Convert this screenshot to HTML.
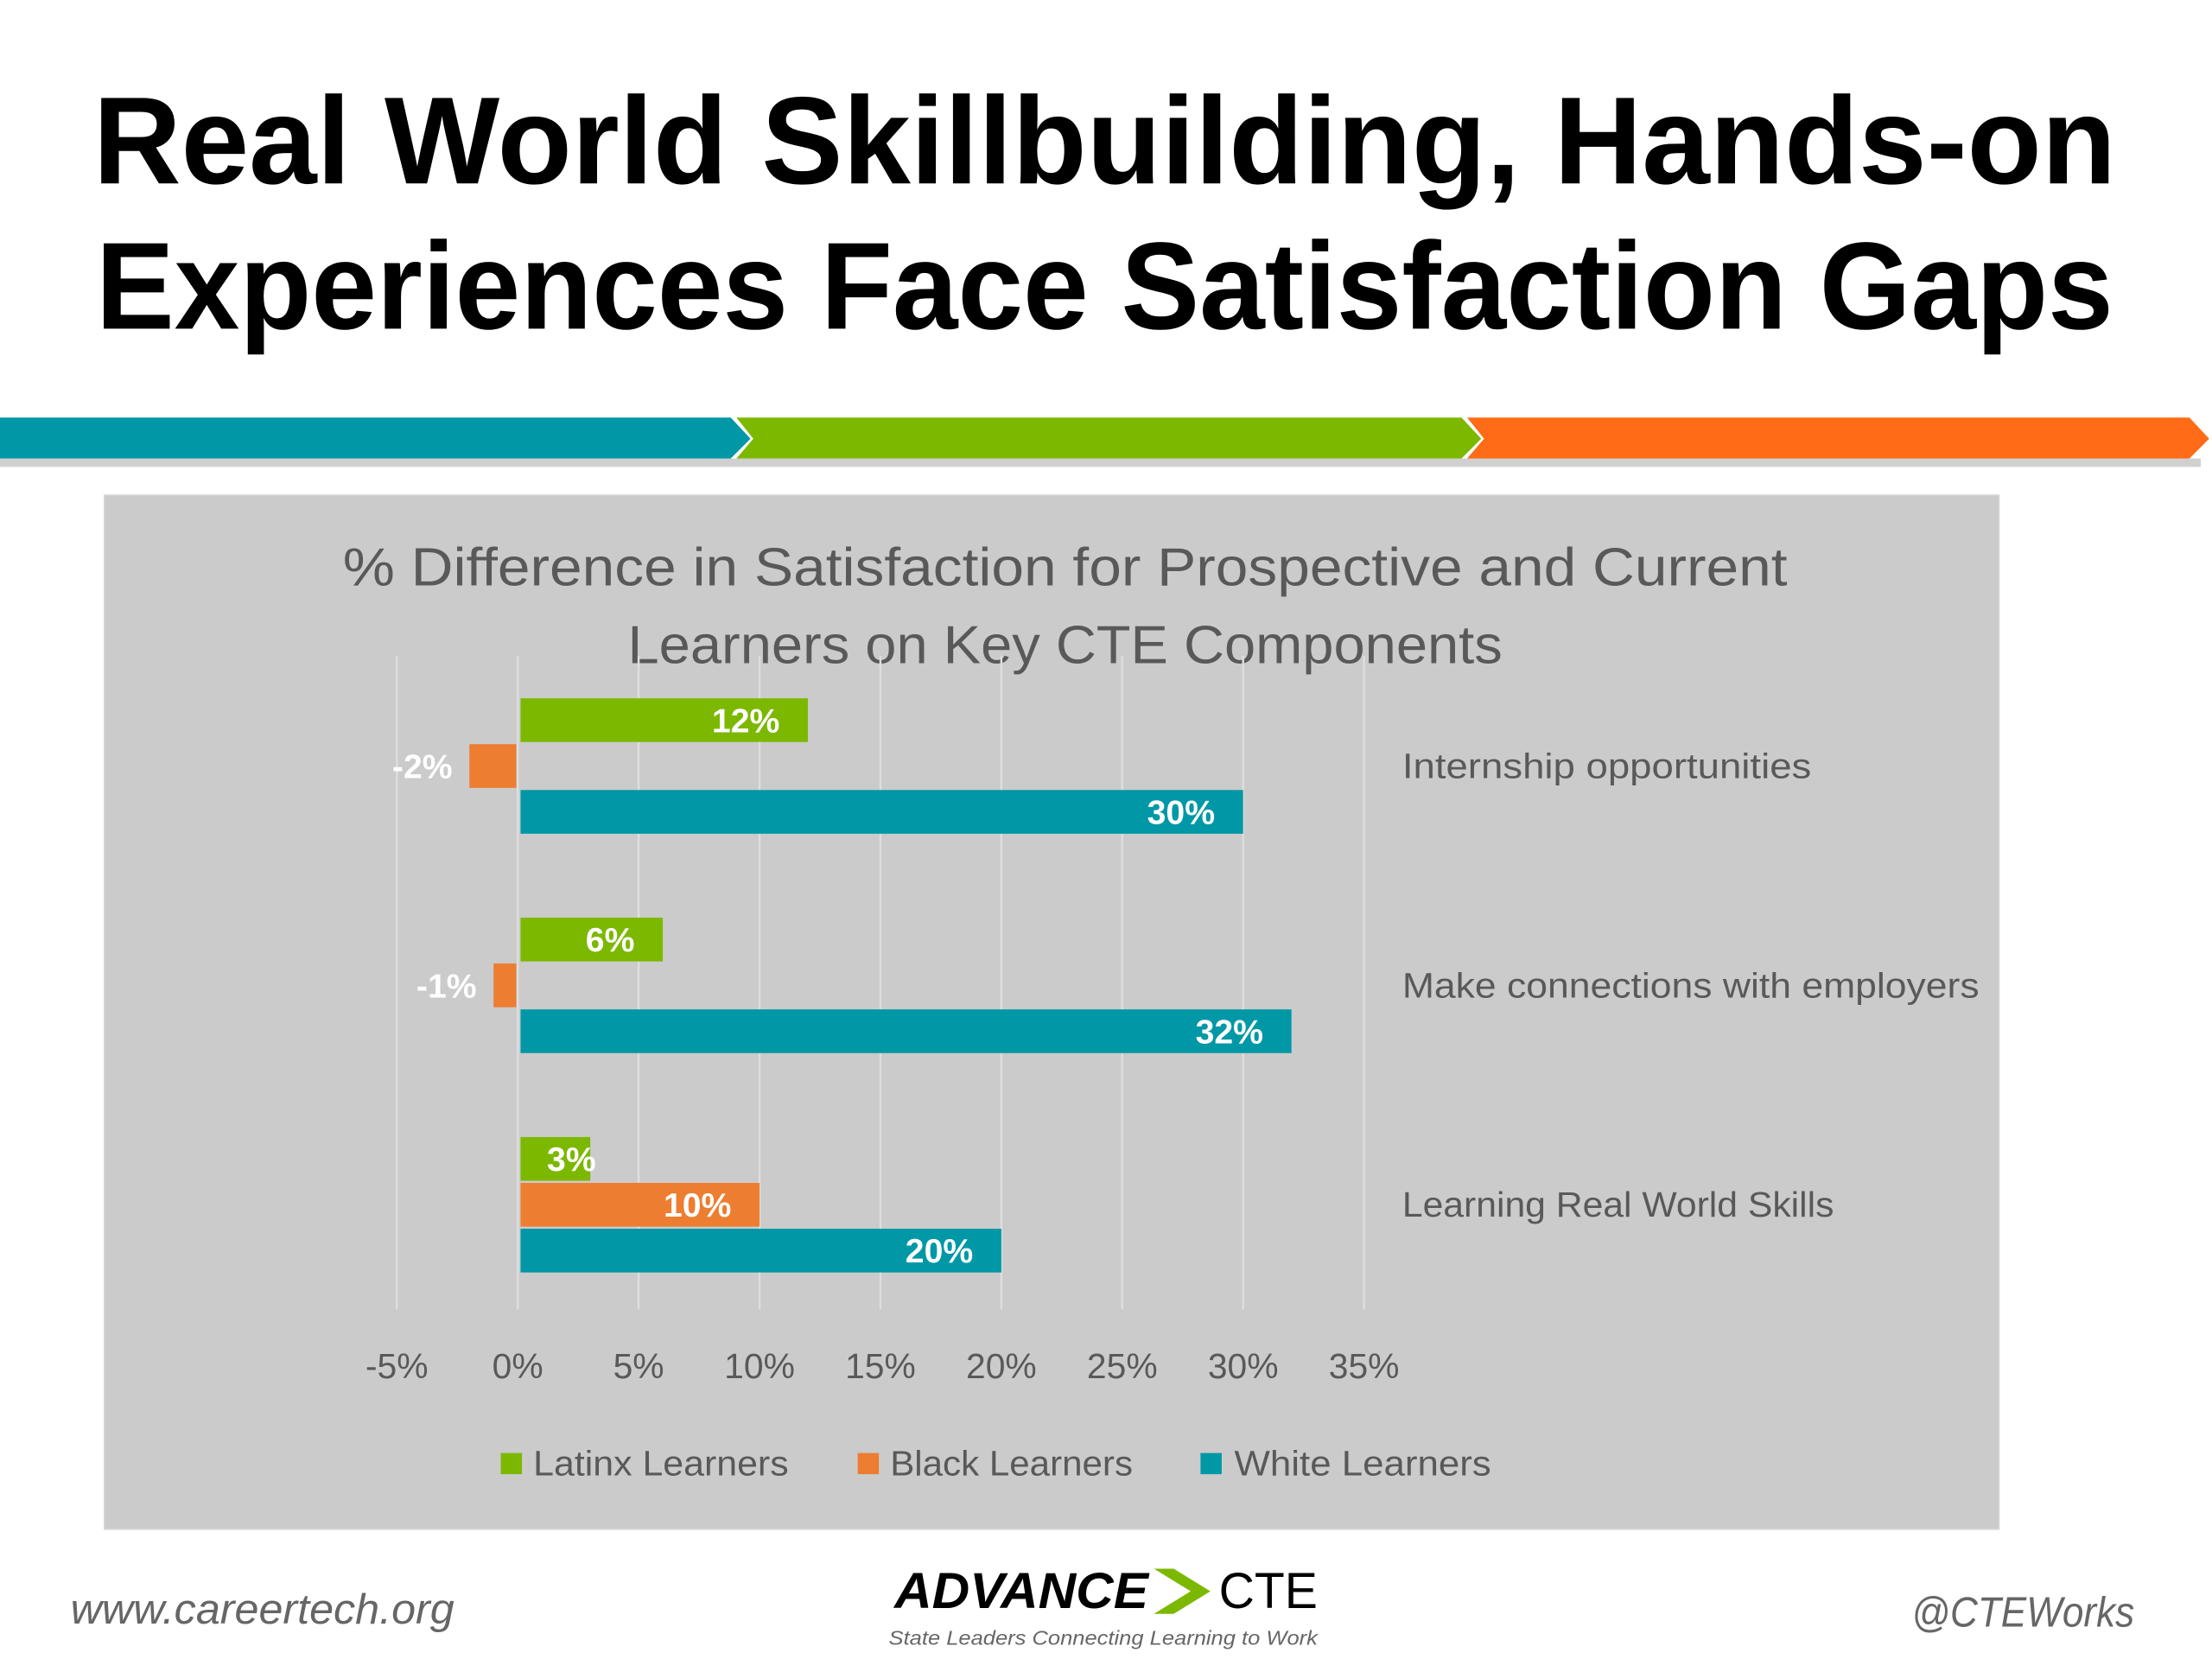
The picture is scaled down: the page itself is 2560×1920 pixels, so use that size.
<!DOCTYPE html>
<html><head><meta charset="utf-8"><style>
html,body{margin:0;padding:0;background:#fff;}
svg{display:block;}
</style></head><body>
<svg width="2560" height="1920" viewBox="0 0 1568 1176" xmlns="http://www.w3.org/2000/svg" font-family="'Liberation Sans', sans-serif">
<rect width="1568" height="1176" fill="#fff"/>
<g font-weight="bold" font-size="88" fill="#000">
<text x="66" y="130" textLength="1434" lengthAdjust="spacingAndGlyphs">Real World Skillbuilding, Hands-on</text>
<text x="68" y="233" textLength="1430" lengthAdjust="spacingAndGlyphs">Experiences Face Satisfaction Gaps</text>
</g>
<g>
<rect x="0" y="325" width="1560" height="6" fill="#d0d0d0"/>
<polygon points="0,296 518,296 532,311 518,325 0,325" fill="#0098a6"/>
<polygon points="522,296 1036,296 1050,311 1036,325 522,325 534,311" fill="#7cb800"/>
<polygon points="1040,296 1552,296 1566,311 1552,325 1040,325 1052,311" fill="#ff6b16"/>
</g>
<rect x="74" y="351" width="1343" height="733" fill="#cbcbcb" stroke="#d6d6d6"/>
<g font-size="38" fill="#595959" text-anchor="middle">
<text x="755" y="415" textLength="1024" lengthAdjust="spacingAndGlyphs">% Difference in Satisfaction for Prospective and Current</text>
<text x="755" y="470" textLength="620" lengthAdjust="spacingAndGlyphs">Learners on Key CTE Components</text>
</g>
<g id="grid"></g>
<g id="bars"></g>
<g id="ticks" font-size="25" fill="#595959" text-anchor="middle"></g>
<g id="cats" font-size="25" fill="#595959"></g>
<g font-size="25" fill="#595959">
<rect x="355" y="1030" width="15" height="15" fill="#7cb800"/>
<text x="378" y="1046" textLength="181" lengthAdjust="spacingAndGlyphs">Latinx Learners</text>
<rect x="608" y="1030" width="15" height="15" fill="#ed7d31"/>
<text x="631" y="1046" textLength="172" lengthAdjust="spacingAndGlyphs">Black Learners</text>
<rect x="851" y="1030" width="15" height="15" fill="#0098a6"/>
<text x="875" y="1046" textLength="182" lengthAdjust="spacingAndGlyphs">White Learners</text>
</g>
<g>
<text x="50" y="1151" font-size="30" font-style="italic" fill="#666" textLength="272" lengthAdjust="spacingAndGlyphs">www.careertech.org</text>
<text x="634" y="1140" font-size="36" font-weight="bold" font-style="italic" fill="#000" textLength="180" lengthAdjust="spacingAndGlyphs">ADVANCE</text>
<polygon points="818,1112 832,1112 858,1128 832,1144 818,1144 844,1128" fill="#7cb800"/>
<text x="864" y="1140" font-size="36" fill="#000" textLength="70" lengthAdjust="spacingAndGlyphs">CTE</text>
<text x="630" y="1166" font-size="14" font-style="italic" fill="#666" textLength="304" lengthAdjust="spacingAndGlyphs">State Leaders Connecting Learning to Work</text>
<text x="1513" y="1153" font-size="30" font-style="italic" fill="#666" text-anchor="end" textLength="158" lengthAdjust="spacingAndGlyphs">@CTEWorks</text>
</g>
</svg>
<script>
const categories = ["Internship opportunities", "Make connections with employers", "Learning Real World Skills"];
const latinx = [12, 6, 3];
const black = [-2, -1, 10];
const white = [30, 32, 20];
const tickValues = [-5, 0, 5, 10, 15, 20, 25, 30, 35];

const NS = "http://www.w3.org/2000/svg";
const x0 = 367, pxPerPct = 17.14;
function xScale(v){ return x0 + v * pxPerPct; }
const catTop = 495, catStep = 155.5, barH = 32;
function yScale(ci, si){ return catTop + ci * catStep + si * 32.5; }
function mk(tag, attrs, parent){ const e = document.createElementNS(NS, tag); for (const k in attrs) e.setAttribute(k, attrs[k]); parent.appendChild(e); return e; }
const catWidths = [290, 409, 306];

const grid = document.getElementById('grid');
const ticks = document.getElementById('ticks');
tickValues.forEach(v => {
  const l = mk('line', {x1: xScale(v), x2: xScale(v), y1: 465, y2: 928, stroke: '#dedede', 'stroke-width': 1.5}, grid);
  
  
  const t = mk('text', {x: xScale(v), y: 977}, ticks);
  t.textContent = v + '%';
  
  
});

const bars = document.getElementById('bars');
const series = [[latinx, '#7cb800', 'latinx'], [black, '#ed7d31', 'black'], [white, '#0098a6', 'white']];
categories.forEach((c, ci) => {
  series.forEach((s, si) => {
    const v = s[0][ci];
    const y = yScale(ci, si);
    const xa = Math.min(xScale(0), xScale(v)) + (v >= 0 ? 2 : 0);
    const w = Math.abs(xScale(v) - xScale(0)) - (v >= 0 ? 2 : 1);
    const r = mk('rect', {x: xa, y: y, width: w, height: barH - 1, fill: s[1]}, bars);
    
    
    const lbl = mk('text', {y: y + 24, 'font-size': 24, 'font-weight': 'bold', fill: '#fff', 'text-anchor': 'end'}, bars);
    let lx;
    if (v < 0) lx = xScale(v) - 12;
    else if (w < 60) lx = xScale(v) + 4;
    else lx = xScale(v) - 20;
    lbl.setAttribute('x', lx);
    lbl.textContent = v + '%';
    
    
  });
  const ct = mk('text', {x: 994, y: yScale(ci, 1) + 24, textLength: catWidths[ci], lengthAdjust: 'spacingAndGlyphs'}, document.getElementById('cats'));
  ct.textContent = c;
  
  
});
</script>
</body></html>
